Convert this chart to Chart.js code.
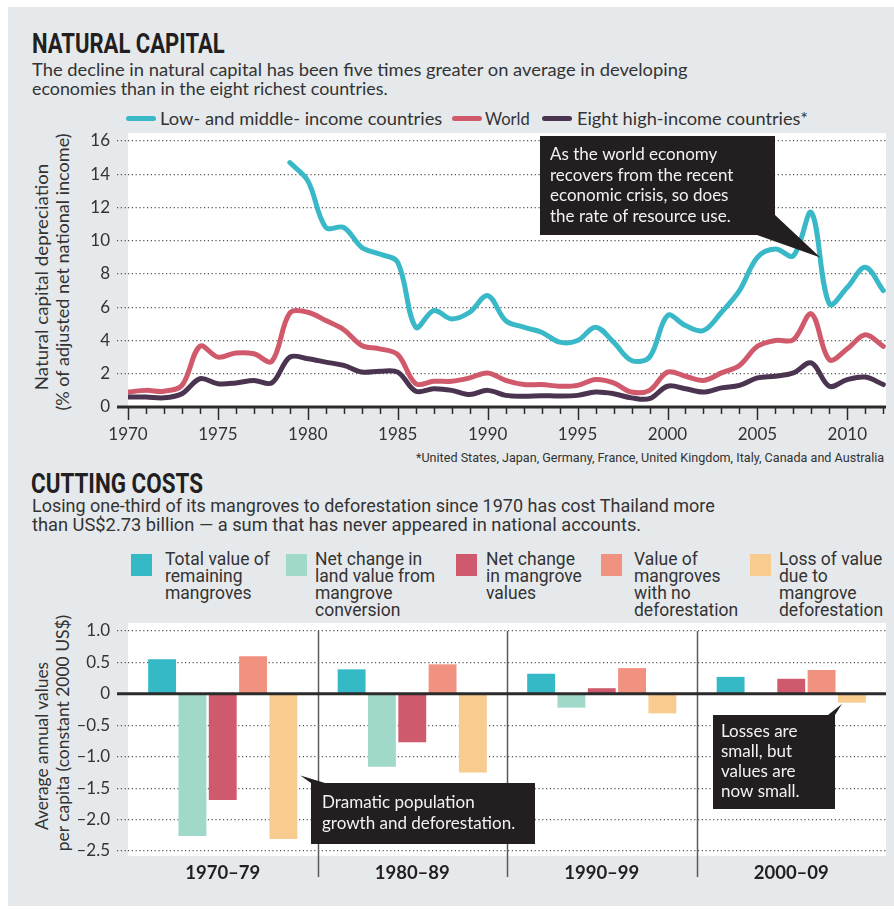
<!DOCTYPE html>
<html>
<head>
<meta charset="utf-8">
<script src="https://cdn.jsdelivr.net/npm/chart.js@4.4.1/dist/chart.umd.min.js"></script>
<style>
    body { margin:0; width:894px; height:910px; background:#fff; position:relative; overflow:hidden;
           font-family:Lato, "Open Sans", sans-serif; color:#231f20; }
    #painel { position:absolute; left:8px; top:7px; width:886px; height:899px; background:#e6e9ec; }
    .txt { position:absolute; white-space:nowrap; transform-origin:left top; line-height:1; }
    .titulo { font-family:"Liberation Sans Narrow", Roboto, sans-serif; font-weight:bold; font-size:28px; color:#231f20; }
    .sub { font-size:17px; color:#333; }
    .cond { font-family:"Liberation Sans Narrow", Roboto, sans-serif; color:#333; }
    .leg { font-size:18px; color:#333; }
    .traco { position:absolute; height:5px; width:30px; border-radius:3px; }
    .quad { position:absolute; width:21px; height:22px; }
    .rot { position:absolute; width:0; height:0; }
    .rot div { position:absolute; left:0; top:0; white-space:nowrap; font-size:17px; color:#333; line-height:1;
               transform-origin:center center; }
    canvas { position:absolute; left:0; }
</style>
</head>
<body>
<div id="painel"></div>

<!-- NATURAL CAPITAL -->
<div class="txt titulo" style="left:32px;top:30px;" data-w="193">NATURAL CAPITAL</div>
<div class="txt sub" style="left:32px;top:61px;" data-w="656">The decline in natural capital has been five times greater on average in developing</div>
<div class="txt sub" style="left:32px;top:80px;" data-w="356">economies than in the eight richest countries.</div>

<div class="traco" style="left:126px;top:116px;background:#39b8c8;"></div>
<div class="txt leg" style="left:160px;top:109px;" data-w="282">Low- and middle- income countries</div>
<div class="traco" style="left:452px;top:116px;background:#d05a6c;"></div>
<div class="txt leg" style="left:485px;top:109px;" data-w="45">World</div>
<div class="traco" style="left:542px;top:116px;background:#4b3450;"></div>
<div class="txt leg" style="left:577px;top:109px;" data-w="231">Eight high-income countries*</div>

<div class="rot" style="left:41px;top:277px;"><div data-w="227" data-rot="1">Natural capital depreciation</div></div>
<div class="rot" style="left:62px;top:272px;"><div data-w="277" data-rot="1">(% of adjusted net national income)</div></div>

<canvas id="graficoCapital" width="894" height="330" style="top:120px;"></canvas>

<div class="txt cond" style="left:416px;top:451px;font-size:13px;" data-w="468">*United States, Japan, Germany, France, United Kingdom, Italy, Canada and Australia</div>

<!-- CUTTING COSTS -->
<div class="txt titulo" style="left:31px;top:470px;" data-w="172">CUTTING COSTS</div>
<div class="txt cond" style="left:32px;top:498px;font-size:17.5px;" data-w="683">Losing one-third of its mangroves to deforestation since 1970 has cost Thailand more</div>
<div class="txt cond" style="left:32px;top:517px;font-size:17.5px;" data-w="609">than US$2.73 billion — a sum that has never appeared in national accounts.</div>

<div class="quad" style="left:131px;top:554px;background:#36b9c7;"></div>
<div class="txt cond" style="left:165px;top:551px;font-size:17.5px;line-height:17px;">Total value of<br>remaining<br>mangroves</div>
<div class="quad" style="left:286px;top:554px;background:#a0d8ca;"></div>
<div class="txt cond" style="left:315px;top:551px;font-size:17.5px;line-height:17px;">Net change in<br>land value from<br>mangrove<br>conversion</div>
<div class="quad" style="left:456px;top:554px;background:#cf5a6e;"></div>
<div class="txt cond" style="left:486px;top:551px;font-size:17.5px;line-height:17px;">Net change<br>in mangrove<br>values</div>
<div class="quad" style="left:601px;top:554px;background:#f19180;"></div>
<div class="txt cond" style="left:634px;top:551px;font-size:17.5px;line-height:17px;">Value of<br>mangroves<br>with no<br>deforestation</div>
<div class="quad" style="left:750px;top:554px;background:#f8cb8e;"></div>
<div class="txt cond" style="left:779px;top:551px;font-size:17.5px;line-height:17px;">Loss of value<br>due to<br>mangrove<br>deforestation</div>

<div class="rot" style="left:41px;top:746px;"><div data-w="168" data-rot="1">Average annual values</div></div>
<div class="rot" style="left:62px;top:733px;"><div data-w="237" data-rot="1">per capita (constant 2000 US$)</div></div>

<canvas id="graficoMangue" width="894" height="300" style="top:600px;"></canvas>

<script>
// ==========================================
// NATURAL CAPITAL + CUTTING COSTS
// =========================================

const anos = [1970, 1971, 1972, 1973, 1974, 1975, 1976, 1977, 1978, 1979,
              1980, 1981, 1982, 1983, 1984, 1985, 1986, 1987, 1988, 1989,
              1990, 1991, 1992, 1993, 1994, 1995, 1996, 1997, 1998, 1999,
              2000, 2001, 2002, 2003, 2004, 2005, 2006, 2007, 2008, 2009,
              2010, 2011, 2012];

const rendaBaixaMedia = [null, null, null, null, null, null, null, null, null, 14.7,
                         13.6, 10.8, 10.8, 9.6, 9.2, 8.7, 4.8, 5.8, 5.3, 5.7,
                         6.7, 5.2, 4.8, 4.5, 3.9, 4.0, 4.8, 3.9, 2.8, 3.0,
                         5.5, 4.9, 4.6, 5.7, 7.0, 9.0, 9.5, 9.1, 11.7, 6.2,
                         7.2, 8.4, 7.0];

const mundo = [0.9, 1.0, 0.95, 1.3, 3.65, 3.0, 3.25, 3.2, 2.75, 5.65,
               5.7, 5.2, 4.65, 3.7, 3.5, 3.15, 1.4, 1.55, 1.55, 1.75,
               2.05, 1.6, 1.35, 1.35, 1.25, 1.3, 1.65, 1.45, 0.9, 1.0,
               2.1, 1.85, 1.6, 2.05, 2.5, 3.65, 4.0, 4.05, 5.6, 2.85,
               3.5, 4.35, 3.65];

const altaRenda = [0.6, 0.6, 0.55, 0.8, 1.7, 1.4, 1.45, 1.6, 1.45, 3.0,
                   2.9, 2.7, 2.5, 2.1, 2.15, 2.1, 0.95, 1.1, 1.0, 0.75,
                   1.0, 0.7, 0.65, 0.68, 0.66, 0.7, 0.9, 0.8, 0.55, 0.5,
                   1.25, 1.1, 0.9, 1.15, 1.3, 1.75, 1.85, 2.05, 2.65, 1.25,
                   1.65, 1.8, 1.35];

const ticksAnos = [1970, 1975, 1980, 1985, 1990, 1995, 2000, 2005, 2010];
const ticksPct = [0, 2, 4, 6, 8, 10, 12, 14, 16];

const periodos = ["1970–79", "1980–89", "1990–99", "2000–09"];
const valorTotal = [0.55, 0.39, 0.32, 0.27];
const mudancaTerra = [-2.26, -1.16, -0.22, null];
const mudancaMangue = [-1.69, -0.77, 0.09, 0.24];
const semDesmatamento = [0.60, 0.47, 0.41, 0.38];
const perdaValor = [-2.31, -1.25, -0.31, -0.14];
const ticksValor = [1.0, 0.5, 0, -0.5, -1.0, -1.5, -2.0, -2.5];

Chart.defaults.font.family = "Lato, 'Open Sans', sans-serif";
Chart.defaults.color = "#333";
Chart.defaults.animation = false;

// caixa preta com seta
function caixa(ctx, b, linhas, seta) {
    ctx.save();
    ctx.fillStyle = "#231f20";
    ctx.fillRect(b.x, b.y, b.w, b.h);
    ctx.beginPath();
    ctx.moveTo(seta[0][0], seta[0][1]);
    ctx.lineTo(seta[1][0], seta[1][1]);
    ctx.lineTo(seta[2][0], seta[2][1]);
    ctx.closePath();
    ctx.fill();
    ctx.fillStyle = "#f2f2f2";
    ctx.font = "17px Lato, 'Open Sans', sans-serif";
    ctx.textBaseline = "middle";
    linhas.forEach((t, i) => ctx.fillText(t, b.tx, b.ty + i * b.lh));
    ctx.restore();
}

const fundoBranco = {
    id: "fundoBranco",
    beforeDraw(chart, args, o) {
        const { ctx, chartArea: a } = chart;
        ctx.save();
        ctx.fillStyle = "#fff";
        ctx.fillRect(a.left, a.top - o.topo, a.right - a.left, a.bottom - a.top + o.topo + o.base);
        ctx.restore();
    }
};

const eixoAnos = {
    id: "eixoAnos",
    beforeDatasetsDraw(chart) {
        const { ctx, chartArea: a, scales: { x, y } } = chart;
        const y0 = y.getPixelForValue(0);
        ctx.save();
        ctx.strokeStyle = "#2b2b2b";
        ctx.lineWidth = 1.5;
        anos.forEach(ano => {
            const px = Math.round(x.getPixelForValue(ano)) + 0.5;
            ctx.beginPath();
            ctx.moveTo(px, y0);
            ctx.lineTo(px, y0 + (ano % 5 === 0 ? 13 : 7));
            ctx.stroke();
        });
        ctx.lineWidth = 3;
        ctx.beginPath();
        ctx.moveTo(a.left - 11, y0);
        ctx.lineTo(a.right, y0);
        ctx.stroke();
        ctx.restore();
    },
    afterDraw(chart) {
        const { x, y } = chart.scales;
        const px = x.getPixelForValue(2008.5), py = y.getPixelForValue(9);
        caixa(chart.ctx, { x: 540, y: 16, w: 235, h: 99, tx: 550, ty: 34.5, lh: 20.6 },
            ["As the world economy", "recovers from the recent", "economic crisis, so does", "the rate of resource use."],
            [[757, 115], [775, 95], [px, py]]);
    }
};

const linha = (label, dados, cor) => ({
    label,
    data: anos.map((a, i) => ({ x: a, y: dados[i] })),
    borderColor: cor,
    borderWidth: 5,
    tension: .35,
    pointRadius: 0,
    borderCapStyle: "round",
    borderJoinStyle: "round",
    fill: false
});

new Chart(document.getElementById("graficoCapital"), {
    type: "line",
    data: {
        datasets: [
            linha("Eight high-income countries*", altaRenda, "#4b3450"),
            linha("World", mundo, "#d05a6c"),
            linha("Low- and middle- income countries", rendaBaixaMedia, "#39b8c8")
        ]
    },
    options: {
        responsive: false,
        layout: { padding: { top: 21, right: 8, left: 0, bottom: 0 } },
        plugins: { legend: { display: false }, tooltip: { enabled: false },
                   fundoBranco: { topo: 8, base: 0 } },
        scales: {
            x: {
                type: "linear", min: 1970, max: 2012.15,
                afterFit: s => { s.height = 43; },
                afterBuildTicks: s => { s.ticks = ticksAnos.map(v => ({ value: v })); },
                ticks: { callback: v => String(v), font: { size: 17 }, padding: 17, maxRotation: 0 },
                grid: { display: false, drawTicks: false },
                border: { display: false }
            },
            y: {
                min: 0, max: 16,
                afterFit: s => { s.width = 128; },
                afterBuildTicks: s => { s.ticks = ticksPct.map(v => ({ value: v })); },
                ticks: { font: { size: 17 }, padding: 7 },
                grid: { color: "#555", lineWidth: 1.2, tickLength: 11, tickColor: "#555",
                        tickBorderDash: [1.2, 2.6] },
                border: { display: false, dash: [1.2, 2.6] }
            }
        }
    },
    plugins: [fundoBranco, eixoAnos]
});

// ---- barras ----
const divisorias = {
    id: "divisorias",
    beforeDatasetsDraw(chart) {
        const { ctx, chartArea: a, scales: { x } } = chart;
        ctx.save();
        ctx.strokeStyle = "#5a5a5a";
        ctx.lineWidth = 1.5;
        for (let i = 1; i < periodos.length; i++) {
            const px = Math.round((x.getPixelForValue(i - 1) + x.getPixelForValue(i)) / 2) + 0.5;
            ctx.beginPath();
            ctx.moveTo(px, a.top);
            ctx.lineTo(px, a.bottom + 26);
            ctx.stroke();
        }
        ctx.restore();
    },
    afterDatasetsDraw(chart) {
        const { ctx, chartArea: a, scales: { y } } = chart;
        const y0 = y.getPixelForValue(0);
        ctx.save();
        ctx.strokeStyle = "#2b2b2b";
        ctx.lineWidth = 3;
        ctx.beginPath();
        ctx.moveTo(a.left - 11, y0);
        ctx.lineTo(a.right, y0);
        ctx.stroke();
        ctx.restore();
    },
    afterDraw(chart) {
        const { y } = chart.scales;
        const perda = chart.getDatasetMeta(4).data;
        const b0 = perda[0], b3 = perda[3];
        caixa(chart.ctx, { x: 311, y: 183, w: 224, h: 61, tx: 322, ty: 202.7, lh: 20.6 },
            ["Dramatic population", "growth and deforestation."],
            [[b0.x + b0.width / 2 + 3, y.getPixelForValue(-1.3)], [311, 183], [325, 183]]);
        caixa(chart.ctx, { x: 713, y: 115, w: 122, h: 94, tx: 721, ty: 131.7, lh: 20 },
            ["Losses are", "small, but", "values are", "now small."],
            [[b3.x - 10, y.getPixelForValue(-0.16)], [828, 115], [835, 115]]);
    }
};

const barra = (label, dados, cor) => ({
    label, data: dados, backgroundColor: cor,
    categoryPercentage: .8, barPercentage: .92
});

new Chart(document.getElementById("graficoMangue"), {
    type: "bar",
    data: {
        labels: periodos,
        datasets: [
            barra("Total value of remaining mangroves", valorTotal, "#36b9c7"),
            barra("Net change in land value from mangrove conversion", mudancaTerra, "#a0d8ca"),
            barra("Net change in mangrove values", mudancaMangue, "#cf5a6e"),
            barra("Value of mangroves with no deforestation", semDesmatamento, "#f19180"),
            barra("Loss of value due to mangrove deforestation", perdaValor, "#f8cb8e")
        ]
    },
    options: {
        responsive: false,
        layout: { padding: { top: 31, right: 8, left: 0, bottom: 0 } },
        plugins: { legend: { display: false }, tooltip: { enabled: false },
                   fundoBranco: { topo: 8, base: 5 } },
        scales: {
            x: {
                afterFit: s => { s.height = 49; },
                ticks: { font: { size: 18.5, weight: "bold" }, color: "#231f20", padding: 11 },
                grid: { display: false, drawTicks: false },
                border: { display: false }
            },
            y: {
                min: -2.5, max: 1,
                afterFit: s => { s.width = 128; },
                afterBuildTicks: s => { s.ticks = ticksValor.map(v => ({ value: v })); },
                ticks: { font: { size: 17 }, padding: 7,
                         callback: v => v === 0 ? "0" : v.toFixed(1).replace("-", "–") },
                grid: { color: "#555", lineWidth: 1.2, tickLength: 11, tickColor: "#555",
                        tickBorderDash: [1.2, 2.6] },
                border: { display: false, dash: [1.2, 2.6] }
            }
        }
    },
    plugins: [fundoBranco, divisorias]
});

// ajusta largura dos textos ao original
document.querySelectorAll("[data-w]").forEach(el => {
    const k = el.dataset.w / el.offsetWidth;
    if (el.dataset.rot) {
        el.style.transform = `translate(-50%,-50%) rotate(-90deg) scaleX(${k})`;
    } else {
        el.style.transform = `scaleX(${k})`;
    }
});
</script>
</body>
</html>
